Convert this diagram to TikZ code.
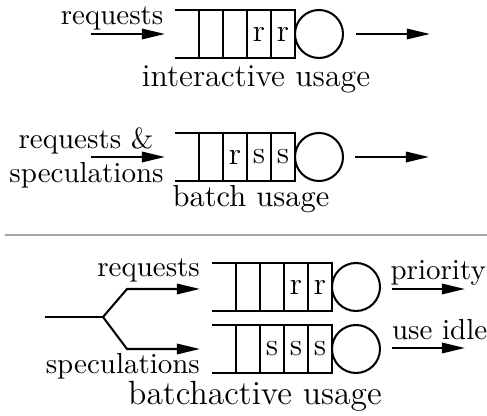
\documentclass[tikz,border=0pt]{standalone}
\usetikzlibrary{arrows.meta}
\begin{document}
\begin{tikzpicture}[x=0.345pt, y=-0.345pt,
  qline/.style={line width=0.7pt, line join=miter},
  flow/.style={line width=0.7pt, -{Triangle[length=8pt,width=3.6pt]}},
  srv/.style={draw, line width=0.7pt, circle, inner sep=0pt, minimum size=16.56pt},
  cellt/.style={inner sep=0pt, font=\fontsize{11}{13}\selectfont},
  lbl/.style={inner sep=0pt, font=\fontsize{10}{12}\selectfont},
  sep/.style={line width=0.7pt, draw=black!35},
  pics/fifo/.style n args={3}{code={
    \draw[qline] (0,0) -- (120,0) -- (120,48) -- (0,48);
    \foreach \k in {1,...,4} \draw[qline] (24*\k,0) -- (24*\k,48);
    \node[cellt] (-c3) at (60,24) {#1};
    \node[cellt] (-c4) at (84,24) {#2};
    \node[cellt] (-c5) at (108,24) {#3};
    \node[srv] (-srv) at (144,24) {};
  }}]
\useasboundingbox (0,0) rectangle (487,416);

% interactive usage
\pic (qa) at (175,10) {fifo={}{r}{r}};
\coordinate (ina0) at (91,34);
\coordinate (ina1) at (165,34);
\coordinate (outa0) at (356,34);
\coordinate (outa1) at (430,34);
\draw[flow] (ina0) -- (ina1);
\draw[flow] (outa0) -- (outa1);
\node[lbl, anchor=base east] (reqa) at (164,25) {requests};
\node[lbl, anchor=base, font=\fontsize{11}{13}\selectfont] (capa) at (256,86.5) {interactive usage};

% batch usage
\pic (qb) at (175,133) {fifo={r}{s}{s}};
\coordinate (inb0) at (91,157);
\coordinate (inb1) at (165,157);
\coordinate (outb0) at (355,157);
\coordinate (outb1) at (429,157);
\draw[flow] (inb0) -- (inb1);
\draw[flow] (outb0) -- (outb1);
\node[lbl, anchor=base] (reqb) at (86,149) {requests \&};
\node[lbl, anchor=base] (specb) at (86.5,183) {speculations};
\node[lbl, anchor=base, font=\fontsize{10.5}{12.5}\selectfont] (capb) at (251,206.7) {batch usage};

% separator
\coordinate (sep0) at (5,235);
\coordinate (sep1) at (487,235);
\draw[sep] (sep0) -- (sep1);

% batchactive usage
\pic (qc) at (212,263) {fifo={}{r}{r}};
\pic (qd) at (212,325) {fifo={s}{s}{s}};
\coordinate (f0) at (45,317);
\coordinate (f1) at (103,317);
\coordinate (f2) at (127,289);
\coordinate (f3) at (200,289);
\coordinate (f4) at (127,349);
\coordinate (f5) at (200,349);
\draw[qline] (f0) -- (f1);
\draw[flow] (f1) -- (f2) -- (f3);
\draw[flow] (f1) -- (f4) -- (f5);
\coordinate (outc0) at (392,289);
\coordinate (outc1) at (465,289);
\coordinate (outd0) at (392,348);
\coordinate (outd1) at (465,348);
\draw[flow] (outc0) -- (outc1);
\draw[flow] (outd0) -- (outd1);
\node[lbl, anchor=base east] (reqc) at (200.5,276.7) {requests};
\node[lbl, anchor=base east] (specd) at (200.5,374) {speculations};
\node[lbl, anchor=base west] (prio) at (390,280) {priority};
\node[lbl, anchor=base west] (idle) at (391.5,339.5) {use idle};
\node[lbl, anchor=base, font=\fontsize{11.6}{14}\selectfont] (capc) at (255,405) {batchactive usage};
\end{tikzpicture}
\end{document}
